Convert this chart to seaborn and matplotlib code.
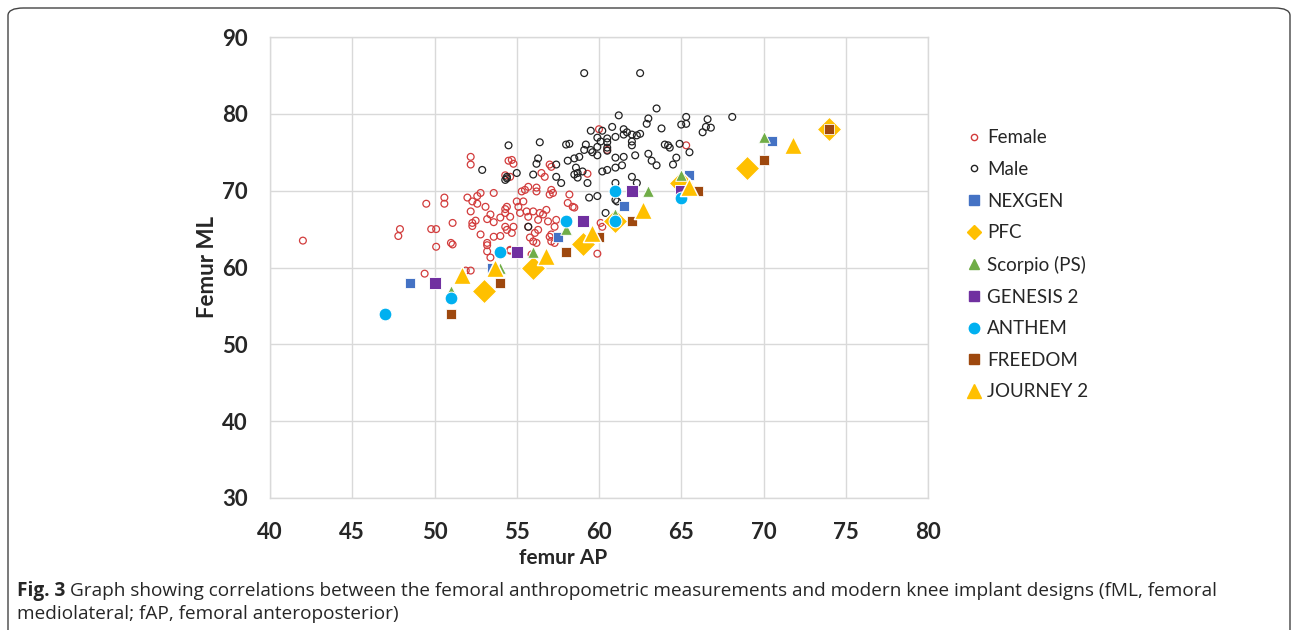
import matplotlib
matplotlib.use("Agg")
import matplotlib.pyplot as plt
import seaborn as sns
import pandas as pd
from matplotlib.lines import Line2D
from matplotlib.patches import FancyBboxPatch

# female anthropometric measurements (femur AP, femur ML)
female_ap = [42.0, 47.9, 47.8, 49.5, 49.8, 50.1, 50.6, 50.6, 51.1, 51.0, 51.1, 52.2, 52.2, 52.0, 52.3,
             52.8, 52.6, 52.2, 52.5, 52.3, 52.8, 53.2, 53.6, 53.1, 53.4, 53.2, 54.0, 53.6, 54.0, 54.3,
             54.3, 53.6, 50.1, 52.6, 52.3, 53.2, 53.2, 53.4, 49.4, 51.9, 52.2, 54.6, 54.5, 54.7, 54.8,
             54.3, 54.6, 55.5, 55.3, 55.7, 56.2, 56.2, 57.1, 57.2, 57.0, 56.5, 56.7, 57.0, 57.1, 58.2,
             58.1, 58.4, 58.5, 59.3, 60.0, 60.5, 65.3, 55.0, 55.1, 55.4, 54.4, 54.3, 54.6, 55.2, 55.6,
             55.7, 56.0, 56.4, 56.6, 56.3, 56.8, 56.9, 57.4, 57.3, 56.3, 55.7, 56.1, 54.4, 54.7, 54.8,
             55.8, 56.0, 56.2, 57.0, 57.1, 57.3, 60.1, 60.2, 59.9, 55.9, 54.6, 57.1]
female_ml = [63.5, 65.0, 64.1, 68.3, 65.0, 65.0, 69.1, 68.3, 65.8, 63.2, 63.0, 74.4, 73.4, 69.1, 68.6,
             69.7, 68.3, 67.3, 66.1, 65.8, 64.3, 63.2, 69.7, 67.9, 66.9, 66.3, 66.5, 65.9, 64.1, 67.6,
             65.3, 64.0, 62.7, 69.3, 65.4, 62.9, 62.1, 61.3, 59.2, 59.6, 59.6, 62.2, 73.9, 74.0, 73.5,
             72.0, 71.8, 70.1, 69.9, 70.5, 70.4, 69.9, 70.1, 69.7, 69.5, 72.3, 71.8, 73.4, 73.1, 69.5,
             68.4, 67.9, 67.8, 72.2, 78.0, 75.3, 75.9, 68.6, 67.9, 68.6, 67.9, 67.1, 66.6, 67.1, 67.3,
             66.6, 67.3, 67.1, 66.9, 66.2, 67.5, 66.0, 66.2, 65.3, 64.9, 65.3, 64.5, 64.9, 64.5, 65.3,
             63.9, 63.4, 63.2, 64.0, 63.4, 63.2, 65.8, 65.3, 61.8, 61.7, 62.3, 64.3]

# male anthropometric measurements
male_ap = [59.1, 62.5, 63.5, 61.2, 63.0, 62.9, 65.3, 65.0, 65.3, 66.6, 66.8, 66.5, 66.3, 68.1, 63.8,
           59.5, 60.2, 60.8, 61.5, 61.7, 61.5, 62.0, 62.3, 62.5, 62.0, 62.0, 61.0, 59.9, 60.5, 60.1,
           60.5, 59.9, 60.5, 60.5, 59.9, 59.2, 59.1, 58.8, 59.5, 59.6, 58.0, 58.2, 56.4, 54.5, 56.3,
           56.2, 57.4, 58.1, 58.5, 58.6, 58.7, 58.5, 58.7, 59.0, 57.4, 57.7, 56.0, 55.0, 54.4, 61.0,
           61.5, 60.5, 60.2, 61.0, 61.4, 62.2, 63.0, 63.2, 63.5, 64.0, 64.3, 64.2, 64.9, 65.5, 64.7,
           64.5, 59.3, 62.0, 62.3, 61.0, 61.0, 59.9, 59.4, 60.4, 55.7, 52.9, 54.4, 54.3, 61.1]
male_ml = [85.3, 85.3, 80.7, 79.8, 79.4, 78.7, 79.6, 78.6, 78.7, 79.3, 78.2, 78.3, 77.6, 79.6, 78.1,
           77.8, 77.8, 78.3, 78.0, 77.6, 77.3, 77.3, 77.2, 77.4, 76.4, 75.9, 77.0, 76.9, 76.8, 76.4,
           76.3, 75.7, 75.6, 75.2, 74.6, 76.0, 75.3, 74.4, 75.3, 75.0, 76.0, 76.1, 76.3, 75.9, 74.2,
           73.5, 73.4, 73.9, 74.2, 73.0, 72.3, 72.1, 71.7, 72.5, 71.8, 71.0, 72.1, 72.3, 71.6, 74.3,
           74.4, 72.7, 72.5, 73.0, 73.3, 74.6, 74.8, 73.9, 73.3, 76.0, 75.6, 75.9, 76.1, 75.0, 74.3,
           73.4, 71.0, 71.8, 71.0, 71.0, 68.8, 69.3, 69.1, 67.1, 65.3, 72.7, 71.8, 71.4, 68.6]

# implant sizes
nexgen_ap = [48.5, 53.5, 57.5, 61.5, 65.5, 70.5]
nexgen_ml = [58.0, 60.0, 64.0, 68.0, 72.0, 76.5]
pfc_ap = [53.0, 56.0, 59.0, 61.0, 65.0, 69.0, 74.0]
pfc_ml = [57.0, 60.0, 63.0, 66.0, 71.0, 73.0, 78.0]
scorpio_ap = [51.0, 54.0, 56.0, 58.0, 61.0, 63.0, 65.0, 70.0]
scorpio_ml = [57.0, 60.0, 62.0, 65.0, 67.0, 70.0, 72.0, 77.0]
genesis_ap = [50.0, 55.0, 59.0, 62.0, 65.0]
genesis_ml = [58.0, 62.0, 66.0, 70.0, 70.0]
anthem_ap = [47.0, 51.0, 54.0, 58.0, 61.0, 61.0, 65.0]
anthem_ml = [54.0, 56.0, 62.0, 66.0, 66.0, 70.0, 69.0]
freedom_ap = [51.0, 54.0, 58.0, 60.0, 62.0, 66.0, 70.0, 74.0]
freedom_ml = [54.0, 58.0, 62.0, 64.0, 66.0, 70.0, 74.0, 78.0]
journey_ap = [51.7, 53.7, 56.8, 59.6, 62.7, 65.5, 71.8]
journey_ml = [59.0, 60.0, 61.5, 64.5, 67.5, 70.5, 76.0]

sns.set_style("white")
plt.rcParams['font.family'] = ['Lato', 'DejaVu Sans']

fig = plt.figure(figsize=(12.92, 6.30), dpi=100)
ax = fig.add_axes([270/1292, 1-498/630, (928-270)/1292, (498-37)/630])

series = [
    ("Female", female_ap, female_ml, dict(marker="o", s=24, facecolors="none", edgecolor="#d23c3c", linewidth=0.9), dict(mfc="none", mec="#d23c3c", ms=4.5)),
    ("Male", male_ap, male_ml, dict(marker="o", s=24, facecolors="none", edgecolor="#222222", linewidth=0.9), dict(mfc="none", mec="#222222", ms=4.5)),
    ("NEXGEN", nexgen_ap, nexgen_ml, dict(marker="s", s=55, color="#4472c4"), dict(color="#4472c4", ms=7)),
    ("PFC", pfc_ap, pfc_ml, dict(marker="D", s=160, color="#ffc000"), dict(color="#ffc000", ms=7.5)),
    ("Scorpio (PS)", scorpio_ap, scorpio_ml, dict(marker="^", s=70, color="#70ad47"), dict(color="#70ad47", ms=7)),
    ("GENESIS 2", genesis_ap, genesis_ml, dict(marker="s", s=68, color="#7030a0"), dict(color="#7030a0", ms=7)),
    ("ANTHEM", anthem_ap, anthem_ml, dict(marker="o", s=85, color="#00b0f0"), dict(color="#00b0f0", ms=7.5)),
    ("FREEDOM", freedom_ap, freedom_ml, dict(marker="s", s=50, color="#9e480e"), dict(color="#9e480e", ms=7)),
    ("JOURNEY 2", journey_ap, journey_ml, dict(marker="^", s=170, color="#ffc000"), dict(color="#ffc000", ms=10)),
]

handles = []
for name, xs, ys, kw, lkw in series:
    df = pd.DataFrame({"ap": xs, "ml": ys})
    sns.scatterplot(data=df, x="ap", y="ml", ax=ax, zorder=3, clip_on=False, **kw)
    handles.append(Line2D([], [], linestyle="none", marker=kw["marker"], label=name, **lkw))

ax.set_xlim(40, 80)
ax.set_ylim(30, 90)
ax.set_xticks(range(40, 81, 5))
ax.set_yticks(range(30, 91, 10))
ax.grid(True, color="#d9d9d9", linewidth=1.0)
ax.set_axisbelow(True)
for sp in ax.spines.values():
    sp.set_color("#d9d9d9")
    sp.set_linewidth(1.0)
ax.tick_params(axis="x", length=0, labelsize=16, pad=17)
ax.tick_params(axis="y", length=0, labelsize=16, pad=16)
for lab in ax.get_xticklabels() + ax.get_yticklabels():
    lab.set_fontweight("bold")
ax.set_xlabel("femur AP", fontsize=15, fontweight="bold")
ax.xaxis.set_label_coords((563-270)/(928-270), -(548-498)/(498-37))
ax.set_ylabel("Femur ML", fontsize=16, fontweight="bold")
ax.yaxis.set_label_coords(-(270-218)/(928-270), 0.5)

fig.legend(handles=handles, loc="upper left", bbox_to_anchor=(955/1292, 1-120/630),
           frameon=False, fontsize=13.5, labelspacing=0.78, handletextpad=0.2,
           handlelength=1.0, borderpad=0)

# border of the figure panel
fig.patches.append(FancyBboxPatch((8/1292, -0.05), (1290-8)/1292, 1 - 8/630 + 0.05,
                                  boxstyle="round,pad=0,rounding_size=0.012", transform=fig.transFigure,
                                  facecolor="none", edgecolor="#444444", linewidth=1.0))

# caption
t1 = fig.text(17/1292, 1-591/630, "Fig. 3", fontsize=13.7, fontweight="bold", va="center", family="Open Sans")
fig.canvas.draw()
bb = t1.get_window_extent()
fig.text((bb.x1 + 5)/1292, 1-591/630,
         "Graph showing correlations between the femoral anthropometric measurements and modern knee implant designs (fML, femoral",
         fontsize=13.7, va="center", family="Open Sans")
fig.text(17/1292, 1-614/630, "mediolateral; fAP, femoral anteroposterior)", fontsize=13.7, va="center", family="Open Sans")

fig.savefig("out.png", dpi=100)
